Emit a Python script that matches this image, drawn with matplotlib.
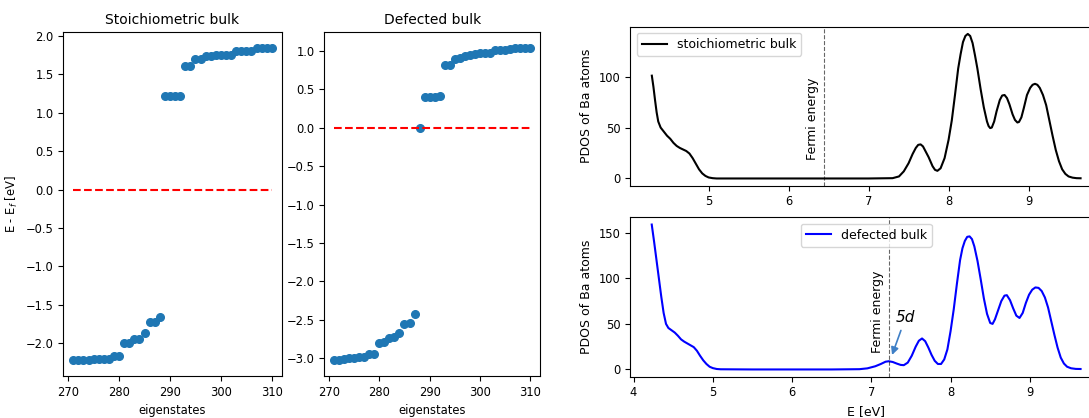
import numpy as np
import matplotlib
matplotlib.use("Agg")
import matplotlib.pyplot as plt

plt.rcParams["font.size"] = 8.3

# Kohn-Sham eigenvalues around the gap, relative to the Fermi level
states = np.arange(271, 311)

e_stoich = [-2.22, -2.22, -2.22, -2.22, -2.20, -2.20, -2.20, -2.20, -2.16, -2.16,
            -1.99, -1.99, -1.94, -1.94, -1.87, -1.72, -1.72, -1.65,
            1.21, 1.21, 1.21, 1.21, 1.60, 1.60, 1.69, 1.69, 1.74, 1.74,
            1.75, 1.75, 1.75, 1.75, 1.80, 1.80, 1.80, 1.80, 1.84, 1.84, 1.84, 1.84]

e_defect = [-3.03, -3.02, -3.01, -3.00, -3.00, -2.99, -2.99, -2.95, -2.95,
            -2.80, -2.79, -2.74, -2.73, -2.67, -2.55, -2.54, -2.42,
            0.00,
            0.40, 0.40, 0.40, 0.42, 0.82, 0.82, 0.90, 0.91, 0.94, 0.95, 0.96,
            0.97, 0.97, 0.98, 1.01, 1.01, 1.01, 1.02, 1.04, 1.04, 1.04, 1.04]

# projected DOS on Ba, stoichiometric cell
E_st = [4.29, 4.31, 4.33, 4.35, 4.37, 4.40, 4.44, 4.48, 4.52, 4.56, 4.60, 4.64,
        4.68, 4.72, 4.76, 4.80, 4.84, 4.88, 4.92, 4.96, 5.00, 5.05, 5.10, 5.50,
        6.00, 6.50, 7.00, 7.30, 7.38, 7.44, 7.50, 7.55, 7.59, 7.62, 7.65, 7.68,
        7.71, 7.75, 7.80, 7.83, 7.86, 7.90, 7.95, 8.00, 8.04, 8.08, 8.12, 8.15,
        8.18, 8.21, 8.24, 8.27, 8.30, 8.33, 8.36, 8.40, 8.44, 8.48, 8.50, 8.52,
        8.54, 8.57, 8.60, 8.64, 8.67, 8.70, 8.73, 8.76, 8.80, 8.83, 8.86, 8.88,
        8.91, 8.94, 8.98, 9.02, 9.05, 9.08, 9.11, 9.14, 9.18, 9.22, 9.26, 9.30,
        9.34, 9.38, 9.42, 9.46, 9.50, 9.55, 9.60, 9.65]
pdos_st = [101, 90, 77, 65, 56, 50, 46, 42, 39, 35, 32, 30,
           28.5, 27, 24.5, 20, 14.5, 9, 5, 2.5, 1, 0.3, 0, 0,
           0, 0, 0, 0.3, 2, 7, 15, 24, 30, 33, 33.5, 31.5,
           27, 21, 12, 8.5, 7.5, 10, 20, 38, 57, 82, 108, 122,
           134, 140, 142, 140, 133, 121, 108, 88, 70, 56, 51.5, 49.5,
           50, 56, 66, 77, 81.5, 82, 79, 73, 63, 57.5, 55, 55.5,
           60, 69, 82, 89, 92, 93, 92, 89, 82, 72, 57, 42,
           28, 17, 9, 4.5, 2, 0.8, 0.3, 0.2]

# projected DOS on Ba, cell with the defect
E_df = [4.23, 4.26, 4.29, 4.32, 4.35, 4.38, 4.41, 4.44, 4.48, 4.52, 4.56, 4.60,
        4.64, 4.68, 4.72, 4.76, 4.80, 4.84, 4.88, 4.92, 4.96, 5.00, 5.05, 5.10,
        5.50, 6.00, 6.50, 6.85, 6.95, 7.05, 7.12, 7.18, 7.22, 7.27, 7.32, 7.37,
        7.41, 7.46, 7.51, 7.56, 7.60, 7.64, 7.68, 7.72, 7.76, 7.80, 7.84, 7.88,
        7.92, 7.96, 8.00, 8.04, 8.08, 8.12, 8.15, 8.18, 8.21, 8.24, 8.27, 8.30,
        8.34, 8.38, 8.42, 8.46, 8.50, 8.53, 8.56, 8.60, 8.64, 8.68, 8.71, 8.75,
        8.79, 8.83, 8.87, 8.91, 8.95, 8.99, 9.03, 9.07, 9.11, 9.15, 9.19, 9.23,
        9.27, 9.31, 9.35, 9.39, 9.43, 9.47, 9.52, 9.58, 9.64]
pdos_df = [159, 140, 120, 100, 80, 62, 50, 45.5, 43, 40.5, 37, 33,
           30.5, 28.5, 26.5, 24.5, 20.5, 15, 10, 6, 3, 1.5, 0.5, 0.2,
           0, 0, 0, 0.3, 1.2, 3.5, 6, 8.5, 9, 8.2, 6.5, 5,
           4.7, 7.5, 15, 25, 31.5, 34, 31, 24, 16, 9.5, 6, 6,
           11, 22, 42, 66, 94, 120, 133, 141, 145.5, 146, 143, 135,
           119, 99, 78, 61, 51, 50, 55, 65, 75, 81, 81.5, 76,
           67, 59, 56.5, 62, 73, 82, 87.5, 90, 89.5, 86, 79, 68,
           53, 38, 24, 13, 6.5, 3, 1.3, 0.6, 0.5]

ef_st = 6.44
ef_df = 7.22

W, H = 1089, 418
fig = plt.figure(figsize=(W / 100, H / 100), dpi=100)


def box(left, right, top, bottom):
    return [left / W, 1 - bottom / H, (right - left) / W, (bottom - top) / H]


ax1 = fig.add_axes(box(63.3, 281.7, 32.3, 376))
ax1.plot(states, e_stoich, "o", ms=5.5)
ax1.plot(states, np.zeros(len(states)), "r--")
ax1.set_title("Stoichiometric bulk", fontsize=10)
ax1.set_xlabel("eigenstates")
ax1.set_ylabel("E - E$_f$ [eV]")

ax2 = fig.add_axes(box(324.3, 540, 32.3, 376))
ax2.plot(states, e_defect, "o", ms=5.5)
ax2.plot(states, np.zeros(len(states)), "r--")
ax2.set_title("Defected bulk", fontsize=10)
ax2.set_xlabel("eigenstates")

ax3 = fig.add_axes(box(630.4, 1102, 26.7, 185.7))
ax3.plot(E_st, pdos_st, color="k", label="stoichiometric bulk")
ax3.axvline(ef_st, ls="--", color="k", lw=0.8, alpha=0.6)
ax3.text(ef_st - 0.06, 18, "Fermi energy", rotation=90, ha="right", va="bottom", fontsize=9)
ax3.set_ylabel("PDOS of Ba atoms", fontsize=9)
ax3.legend(loc="upper left", fontsize=9)

ax4 = fig.add_axes(box(630.3, 1102, 217.3, 376.7))
ax4.plot(E_df, pdos_df, color="b", label="defected bulk")
ax4.axvline(ef_df, ls="--", color="k", lw=0.8, alpha=0.6)
ax4.text(ef_df - 0.06, 18, "Fermi energy", rotation=90, ha="right", va="bottom", fontsize=9)
ax4.annotate("5d", xy=(7.25, 13), xytext=(7.31, 52), fontsize=11, style="italic",
             arrowprops=dict(arrowstyle="-|>", color="#3f7fc6", lw=1.2))
ax4.set_ylabel("PDOS of Ba atoms", fontsize=9)
ax4.set_xlabel("E [eV]", fontsize=9)
ax4.legend(loc="upper center", fontsize=9)

fig.savefig("out.png", dpi=100)
